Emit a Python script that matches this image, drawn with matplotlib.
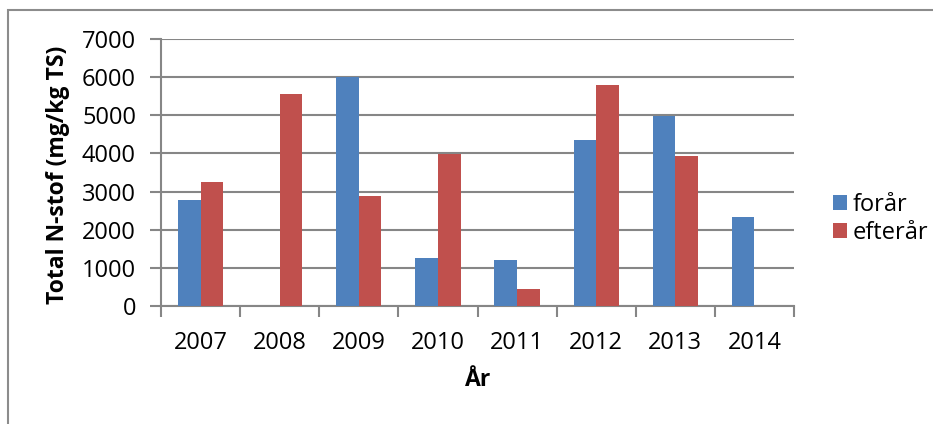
import matplotlib
matplotlib.use("Agg")
import matplotlib.pyplot as plt
import numpy as np
from matplotlib.patches import Rectangle

# data
years = ["2007", "2008", "2009", "2010", "2011", "2012", "2013", "2014"]
foraar = [2790, 0, 6000, 1250, 1200, 4345, 4975, 2345]
efteraar = [3250, 5570, 2875, 3980, 440, 5805, 3925, 0]

blue = "#4F81BD"
red = "#C0504D"
grid_col = "#868686"

plt.rcParams["font.family"] = ["Open Sans", "DejaVu Sans"]
fs = 17

W, H = 933, 424
fig = plt.figure(figsize=(W / 100, H / 100), dpi=100)

# chart area border (only top and left edges visible in the crop)
fig.patches.append(Rectangle((8 / W, -0.1), 1.2, (H - 10) / H + 0.1,
                             transform=fig.transFigure, fill=False,
                             edgecolor="#8c8c8c", linewidth=1.5))

x0, x1, y0, y1 = 161, 794, 39, 306
ax = fig.add_axes([x0 / W, (H - y1) / H, (x1 - x0) / W, (y1 - y0) / H])

x = np.arange(len(years))
w = 1 / 3.5
ax.bar(x - w / 2, foraar, w, color=blue, label="forår", zorder=3)
ax.bar(x + w / 2, efteraar, w, color=red, label="efterår", zorder=3)

ax.set_xlim(-0.5, len(years) - 0.5)
ax.set_ylim(0, 7000)
ax.set_yticks(np.arange(0, 7001, 1000))
ax.yaxis.grid(True, color=grid_col, linewidth=1.5, zorder=0)

# category boundaries get the tick marks, labels sit at the centres
ax.set_xticks(np.arange(-0.5, len(years)), labels=[""] * (len(years) + 1))
ax.set_xticks(x, labels=years, minor=True)
ax.tick_params(axis="x", which="major", length=8, width=1.5, color=grid_col, direction="out")
ax.tick_params(axis="x", which="minor", length=0, pad=18, labelsize=fs)
ax.tick_params(axis="y", length=8, width=1.5, color=grid_col, direction="out", pad=10, labelsize=fs)

for s in ["top", "right"]:
    ax.spines[s].set_visible(False)
for s in ["left", "bottom"]:
    ax.spines[s].set_color(grid_col)
    ax.spines[s].set_linewidth(1.5)

ax.set_ylabel("Total N-stof (mg/kg TS)", fontsize=16.5, fontweight="bold")
ax.yaxis.set_label_coords(58 / W, (H - 175) / H, transform=fig.transFigure)
ax.yaxis.label.set_va("center")
ax.set_xlabel("År", fontsize=16.5, fontweight="bold")
ax.xaxis.set_label_coords(478 / W, (H - 368) / H, transform=fig.transFigure)

leg = ax.legend(loc="center left", bbox_to_anchor=(833 / W, (H - 219) / H),
                bbox_transform=fig.transFigure, frameon=False, fontsize=fs,
                handlelength=0.6, handleheight=0.6, handletextpad=0.25,
                labelspacing=0.15, borderaxespad=0, borderpad=0)

fig.savefig("out.png", dpi=100)
